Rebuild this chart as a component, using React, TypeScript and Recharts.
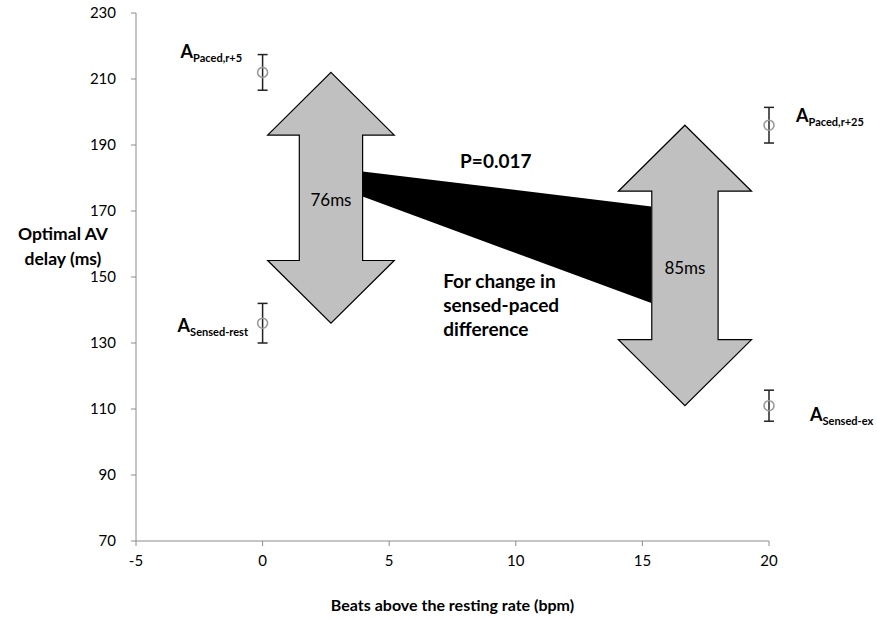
import {
  ComposedChart, XAxis, YAxis, Scatter, ErrorBar, Area, ReferenceArea, ReferenceDot, Label,
} from "recharts";

const FONT = "Lato, 'Open Sans', sans-serif";

const xTicks = [-5, 0, 5, 10, 15, 20];
const yTicks = [70, 90, 110, 130, 150, 170, 190, 210, 230];

// mean optimal AV delay with error bars
const pointNames = ["Paced,r+5", "Sensed-rest", "Paced,r+25", "Sensed-ex"];
const pointX = [0, 0, 20, 20];
const pointY = [212, 136, 196, 111];
const pointErr = [5.4, 6, 5.4, 4.7];

// double arrows spanning the sensed-paced difference
const arrowCenter = [2.7, 16.68];
const arrowTop = [212, 196];
const arrowBottom = [136, 111];
const arrowHalfHead = [2.5, 2.63];
const arrowHalfShaft = [1.25, 1.31];
const arrowHead = [19, 20];
const arrowText = ["76ms", "85ms"];

// black wedge between the two arrows
const bandX = [3.95, 15.35];
const bandLow = [174.4, 142.1];
const bandHigh = [182, 171.4];

const points = pointNames.map((name, i) => ({ name, x: pointX[i], y: pointY[i], err: pointErr[i] }));
const band = bandX.map((x, i) => ({ x, band: [bandLow[i], bandHigh[i]] }));

// where each point's label sits relative to the marker (px)
const labelOffset: Record<string, [number, number]> = {
  "Paced,r+5": [-82, -14],
  "Sensed-rest": [-85, 9],
  "Paced,r+25": [27, -3],
  "Sensed-ex": [41, 15],
};

const PointShape = (p: any) => {
  const name = p.payload?.name ?? p.name;
  const [dx, dy] = labelOffset[name] || [0, 0];
  return (
    <g>
      <circle cx={p.cx} cy={p.cy} r={5} fill="none" stroke="#9a9a9a" strokeWidth={1.6} />
      <text x={p.cx + dx} y={p.cy + dy} fontFamily={FONT} fontWeight={700} fill="#000">
        <tspan fontSize={18}>A</tspan>
        <tspan fontSize={11} dy={4}>{name}</tspan>
      </text>
    </g>
  );
};

const makeArrowShape = (i: number) => (p: any) => {
  const { x, y, width, height } = p;
  const cx = x + width / 2;
  const shaft = (width / 2) * (arrowHalfShaft[i] / arrowHalfHead[i]);
  const head = (height * arrowHead[i]) / (arrowTop[i] - arrowBottom[i]);
  const pts = [
    [cx, y], [x + width, y + head], [cx + shaft, y + head],
    [cx + shaft, y + height - head], [x + width, y + height - head], [cx, y + height],
    [x, y + height - head], [cx - shaft, y + height - head], [cx - shaft, y + head], [x, y + head],
  ];
  return (
    <g>
      <polygon points={pts.map((q) => q.join(",")).join(" ")} fill="#c0c0c0" stroke="#000" strokeWidth={1.2} />
      <text x={cx} y={y + height / 2 + 4} textAnchor="middle" dominantBaseline="middle"
        fontFamily={FONT} fontSize={17} fill="#000">{arrowText[i]}</text>
    </g>
  );
};

const YTitle = (props: any) => {
  const vb = props.viewBox;
  const cy = vb.y + vb.height / 2 - 31;
  return (
    <text x={63} y={cy} textAnchor="middle" fontFamily={FONT} fontWeight={700} fontSize={17.5} fill="#000">
      <tspan x={63} dy={-6}>Optimal AV</tspan>
      <tspan x={63} dy={25}>delay (ms)</tspan>
    </text>
  );
};

const XTitle = (props: any) => {
  const vb = props.viewBox;
  return (
    <text x={vb.x + vb.width / 2} y={vb.y + 70} textAnchor="middle" fontFamily={FONT}
      fontWeight={700} fontSize={16} fill="#000">Beats above the resting rate (bpm)</text>
  );
};

const tickStyle = { fill: "#000", fontSize: 15, fontFamily: FONT };
const axisStroke = "#8c8c8c";

export default function App() {
  return (
    <div style={{ position: "absolute", left: 0, top: 0, background: "#fff" }}>
      <ComposedChart width={877} height={619} margin={{ top: 13, right: 108, left: 0, bottom: 0 }}>
        <XAxis
          dataKey="x" type="number" domain={[-5, 20]} ticks={xTicks} height={78}
          tick={tickStyle} tickSize={5} tickMargin={9}
          axisLine={{ stroke: axisStroke }} tickLine={{ stroke: axisStroke }}
        >
          <Label content={<XTitle />} />
        </XAxis>
        <YAxis
          type="number" domain={[70, 230]} ticks={yTicks} width={136}
          tick={tickStyle} tickSize={5} tickMargin={15}
          axisLine={{ stroke: axisStroke }} tickLine={{ stroke: axisStroke }}
        >
          <Label content={<YTitle />} />
        </YAxis>
        <Area data={band} dataKey="band" type="linear" fill="#000" fillOpacity={1} stroke="none"
          isAnimationActive={false} />
        {arrowCenter.map((c, i) => (
          <ReferenceArea key={i} x1={c - arrowHalfHead[i]} x2={c + arrowHalfHead[i]}
            y1={arrowBottom[i]} y2={arrowTop[i]} shape={makeArrowShape(i)} />
        ))}
        <ReferenceDot x={9.21} y={184.6} r={0} shape={(p: any) => (
          <text x={p.cx} y={p.cy} textAnchor="middle" dominantBaseline="middle" fontFamily={FONT}
            fontWeight={700} fontSize={19} fill="#000">P=0.017</text>
        )} />
        <ReferenceDot x={7.13} y={148.2} r={0} shape={(p: any) => (
          <text x={p.cx} y={p.cy} dominantBaseline="middle" fontFamily={FONT}
            fontWeight={700} fontSize={19} fill="#000">
            <tspan x={p.cx}>For change in</tspan>
            <tspan x={p.cx} dy={24}>sensed-paced</tspan>
            <tspan x={p.cx} dy={24}>difference</tspan>
          </text>
        )} />
        <Scatter data={points} dataKey="y" shape={PointShape} isAnimationActive={false}>
          <ErrorBar dataKey="err" direction="y" width={5} stroke="#222" strokeWidth={1.5} />
        </Scatter>
      </ComposedChart>
    </div>
  );
}
